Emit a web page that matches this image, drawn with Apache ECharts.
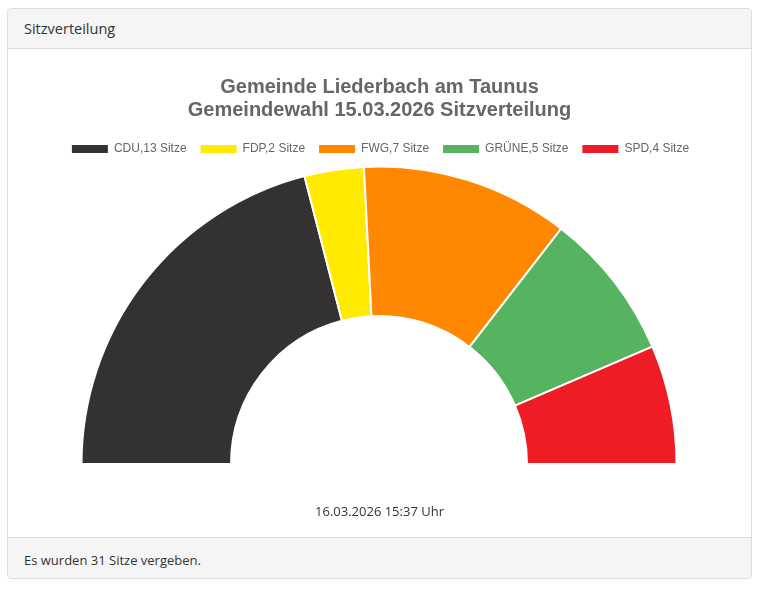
<!DOCTYPE html>
<html>
<head>
<meta charset="utf-8">
<script src="https://cdn.jsdelivr.net/npm/echarts@6/dist/echarts.min.js"></script>
<style>
html,body{margin:0;padding:0;background:#fff;width:759px;height:590px;overflow:hidden;}
.card{position:absolute;left:7px;top:8px;width:743px;height:569px;border:1px solid #ddd;border-radius:4px;background:#fff;overflow:hidden;}
.head{position:absolute;left:0;top:0;right:0;height:39px;background:#f5f5f5;border-bottom:1px solid #ddd;font-family:"Open Sans","Noto Sans",sans-serif;font-size:14.5px;color:#333;line-height:40px;padding-left:16px;}
.foot{position:absolute;left:0;bottom:0;right:0;height:40px;background:#f5f5f5;border-top:1px solid #ddd;font-family:"Open Sans","Noto Sans",sans-serif;font-size:13px;color:#333;line-height:44px;padding-left:16px;}
#chart{position:absolute;left:0;top:40px;width:743px;height:488px;}
.stamp{position:absolute;left:0;right:0;top:493px;text-align:center;font-family:"Open Sans","Noto Sans",sans-serif;font-size:13px;color:#333;}
</style>
</head>
<body>
<div class="card">
  <div class="head">Sitzverteilung</div>
  <div id="chart"></div>
  <div class="stamp">16.03.2026 15:37 Uhr</div>
  <div class="foot">Es wurden 31 Sitze vergeben.</div>
</div>
<script>
var parties = ["CDU", "FDP", "FWG", "GRÜNE", "SPD"];
var seats = [13, 2, 7, 5, 4];
var colors = ["#333132", "#ffea00", "#ff8800", "#56b461", "#ee1c25"];
var titleLines = ["Gemeinde Liederbach am Taunus", "Gemeindewahl 15.03.2026 Sitzverteilung"];

var chart = echarts.init(document.getElementById('chart'));
var data = parties.map(function (p, i) {
  return { name: p + "," + seats[i] + " Sitze", value: seats[i], itemStyle: { color: colors[i] } };
});
chart.setOption({
  animation: false,
  title: {
    text: titleLines.join("\n"),
    left: 'center',
    top: 22,
    textStyle: { fontFamily: 'Liberation Sans, Arial, sans-serif', fontSize: 20, fontWeight: 'bold', color: '#666', lineHeight: 23 }
  },
  legend: {
    top: 89,
    left: 'center',
    itemWidth: 38,
    itemHeight: 10,
    itemGap: 12,
    icon: 'rect',
    textStyle: { fontFamily: 'Liberation Sans, Arial, sans-serif', fontSize: 12, color: '#666' },
    data: data.map(function (d) { return d.name; })
  },
  series: [{
    type: 'pie',
    center: [371, 415],
    radius: [148, 297.5],
    startAngle: 180,
    endAngle: 0,
    clockwise: true,
    label: { show: false },
    labelLine: { show: false },
    itemStyle: { borderColor: '#fff', borderWidth: 2 },
    data: data
  }]
});
</script>
</body>
</html>
